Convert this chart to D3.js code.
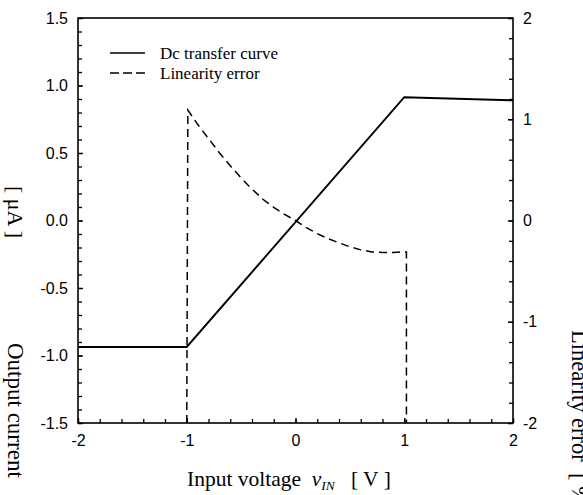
<!DOCTYPE html>
<html>
<head>
<meta charset="utf-8">
<script src="https://cdn.jsdelivr.net/npm/d3@7"></script>
<style>
  body { margin: 0; background: #fff; }
  svg { display: block; }
  .tick text { font-family: "Liberation Sans", Arial, sans-serif; font-size: 16px; }
  .ttl { font-family: "Liberation Serif", "Times New Roman", serif; white-space: pre; }
</style>
</head>
<body>
<div id="chart"></div>
<script>
// dc transfer curve (left axis, uA) vs input voltage (V)
var transferX = [-2, -1, 1, 2];
var transferY = [-0.937, -0.937, 0.913, 0.89];

// linearity error (right axis, %)
var errorX = [-1.0, -0.99, -0.9, -0.8, -0.7, -0.6, -0.5, -0.4, -0.3, -0.2, -0.1, 0, 0.1, 0.2, 0.3, 0.4, 0.5, 0.6, 0.7, 0.8, 0.9, 1.0, 1.02, 1.02];
var errorY = [-2, 1.09, 0.95, 0.81, 0.67, 0.54, 0.42, 0.31, 0.21, 0.13, 0.06, 0, -0.07, -0.13, -0.18, -0.22, -0.26, -0.29, -0.31, -0.315, -0.315, -0.31, -0.31, -2];

var xTicks = [-2, -1, 0, 1, 2];
var yLeftTicks = [-1.5, -1.0, -0.5, 0.0, 0.5, 1.0, 1.5];
var yRightTicks = [-2, -1, 0, 1, 2];

var svgWidth = 583, svgHeight = 495;
var margin = {top: 18, right: 70, bottom: 72, left: 78};
var width = 513 - margin.left;
var height = 423 - margin.top;

// plain hyphen for negatives, like the original
var fmt = f => (d => d3.format(f)(d).replace("\u2212", "-"));

var svg = d3.select("#chart").append("svg")
  .attr("width", svgWidth)
  .attr("height", svgHeight);

var g = svg.append("g").attr("transform", `translate(${margin.left}, ${margin.top})`);

var x = d3.scaleLinear().domain([-2, 2]).range([0, width]);
var yL = d3.scaleLinear().domain([-1.5, 1.5]).range([height, 0]);
var yR = d3.scaleLinear().domain([-2, 2]).range([height, 0]);

// minor ticks first (inward)
g.append("g").attr("transform", `translate(0, ${height})`)
  .call(d3.axisBottom(x).tickValues(d3.range(-2, 2.001, 0.2)).tickSize(-4).tickFormat(""))
  .call(a => a.select(".domain").remove());
g.append("g")
  .call(d3.axisLeft(yL).tickValues(d3.range(-1.5, 1.501, 0.1)).tickSize(-4).tickFormat(""))
  .call(a => a.select(".domain").remove());
g.append("g").attr("transform", `translate(${width}, 0)`)
  .call(d3.axisRight(yR).tickValues(d3.range(-2, 2.001, 0.2)).tickSize(-4).tickFormat(""))
  .call(a => a.select(".domain").remove());

// major ticks with labels
var bottomAxis = g.append("g").attr("transform", `translate(0, ${height})`)
  .call(d3.axisBottom(x).tickValues(xTicks).tickSize(-5).tickPadding(12).tickFormat(fmt("d")));
var leftAxis = g.append("g")
  .call(d3.axisLeft(yL).tickValues(yLeftTicks).tickSize(-5).tickPadding(10).tickFormat(fmt(".1f")));
var rightAxis = g.append("g").attr("transform", `translate(${width}, 0)`)
  .call(d3.axisRight(yR).tickValues(yRightTicks).tickSize(-5).tickPadding(10).tickFormat(fmt("d")));

[bottomAxis, leftAxis, rightAxis].forEach(a => a.select(".domain").remove());
g.selectAll(".tick line").attr("stroke", "#000").attr("stroke-width", 1.3);
g.selectAll(".tick text").attr("fill", "#000");

// frame
g.append("rect").attr("width", width).attr("height", height)
  .attr("fill", "none").attr("stroke", "#000").attr("stroke-width", 1.6);

var transfer = transferX.map((v, i) => [v, transferY[i]]);
var errData = errorX.map((v, i) => [v, errorY[i]]);

g.append("path").datum(transfer)
  .attr("fill", "none").attr("stroke", "#000").attr("stroke-width", 1.9)
  .attr("d", d3.line().x(d => x(d[0])).y(d => yL(d[1])));

g.append("path").datum(errData)
  .attr("fill", "none").attr("stroke", "#000").attr("stroke-width", 1.5)
  .attr("stroke-dasharray", "8,5")
  .attr("d", d3.line().x(d => x(d[0])).y(d => yR(d[1])));

// legend
var legend = svg.append("g").attr("transform", "translate(110, 53)");
legend.append("line").attr("x1", 0).attr("x2", 35).attr("y1", 0).attr("y2", 0)
  .attr("stroke", "#000").attr("stroke-width", 1.6);
legend.append("line").attr("x1", 0).attr("x2", 35).attr("y1", 20).attr("y2", 20)
  .attr("stroke", "#000").attr("stroke-width", 1.6).attr("stroke-dasharray", "9,4");
legend.append("text").attr("class", "ttl").attr("x", 50).attr("y", 5.5)
  .attr("font-size", 17).text("Dc transfer curve");
legend.append("text").attr("class", "ttl").attr("x", 50).attr("y", 25.5)
  .attr("font-size", 17).text("Linearity error");

// x axis title
var xt = svg.append("text").attr("class", "ttl").attr("x", 187).attr("y", 486).attr("font-size", 21.5);
xt.append("tspan").text("Input voltage  ");
xt.append("tspan").attr("font-style", "italic").text("v");
xt.append("tspan").attr("font-style", "italic").attr("font-size", 13.5).attr("dy", 4).text("IN");
xt.append("tspan").attr("dy", -4).text("   [ V ]");

// left title (rotated, reads downward)
svg.append("text").attr("class", "ttl").attr("font-size", 22)
  .attr("transform", "translate(8, 186) rotate(90)")
  .text("[ μA ]");
svg.append("text").attr("class", "ttl").attr("font-size", 23)
  .attr("transform", "translate(8, 343) rotate(90)")
  .text("Output current");

// right title (rotated, cut by the window edge as in the original)
svg.append("text").attr("class", "ttl").attr("font-size", 22.5)
  .attr("transform", "translate(572, 330) rotate(90)")
  .text("Linearity error  [ % ]");
</script>
</body>
</html>
